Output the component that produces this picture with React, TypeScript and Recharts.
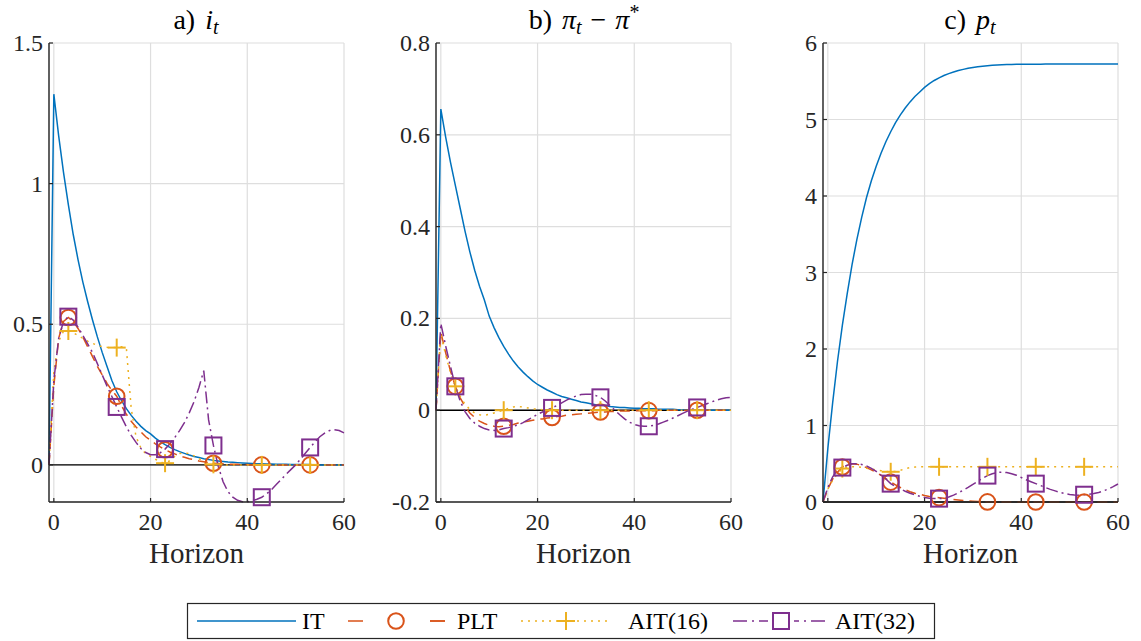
import React from 'react'
import { LineChart, Line, XAxis, YAxis, CartesianGrid, ReferenceLine } from 'recharts'

const FONT = "'Liberation Serif', 'DejaVu Serif', serif"
const AXIS = '#262626'
const GRID = '#dedede'
const COLORS = { it: '#0072BD', plt: '#D95319', ait16: '#EDB120', ait32: '#7E2F8E' }

const FIRST_H = -1
const MARKER_H = [3, 13, 23, 33, 43, 53]
const X_TICKS = [0, 20, 40, 60]
const Y_TICKS_A = [0, 0.5, 1, 1.5]
const Y_TICKS_B = [-0.2, 0, 0.2, 0.4, 0.6, 0.8]
const Y_TICKS_C = [0, 1, 2, 3, 4, 5, 6]

// a) i_t  (horizons -1 .. 60)
const IT_A = [
  0, 1.318, 1.17, 1.04, 0.925, 0.82, 0.73, 0.65, 0.58, 0.515,
  0.455, 0.4, 0.35, 0.3, 0.26, 0.228, 0.2, 0.176, 0.155, 0.137,
  0.122, 0.11, 0.095, 0.083, 0.072, 0.062, 0.054, 0.047, 0.041, 0.035,
  0.03, 0.026, 0.022, 0.019, 0.016, 0.014, 0.012, 0.01, 0.009, 0.008,
  0.007, 0.006, 0.005, 0.004, 0.004, 0.003, 0.003, 0.002, 0.002, 0.002,
  0.001, 0.001, 0.001, 0.001, 0.001, 0, 0, 0, 0, 0,
  0, 0,
]
const PLT_A = [
  0, 0.28, 0.45, 0.51, 0.524, 0.51, 0.485, 0.455, 0.42, 0.385,
  0.35, 0.32, 0.29, 0.265, 0.244, 0.21, 0.18, 0.155, 0.135, 0.117,
  0.1, 0.087, 0.075, 0.064, 0.054, 0.046, 0.039, 0.032, 0.027, 0.022,
  0.018, 0.014, 0.011, 0.008, 0.006, 0.005, 0.004, 0.003, 0.002, 0.002,
  0.001, 0.001, 0, 0, 0, 0, 0, 0, 0, 0,
  0, 0, 0, 0, 0, 0, 0, 0, 0, 0,
  0, 0,
]
const AIT16_A = [
  0, 0.33, 0.44, 0.475, 0.476, 0.47, 0.46, 0.45, 0.44, 0.432,
  0.425, 0.42, 0.418, 0.417, 0.417, 0.42, 0.415, 0.2, 0.1, 0.06,
  0.04, 0.03, 0.02, 0.01, 0.006, 0.015, 0.03, 0.04, 0.043, 0.04,
  0.032, 0.022, 0.013, 0.006, 0.002, 0.001, 0, 0, 0, 0,
  0, 0, 0, 0, 0, 0, 0, 0, 0, 0,
  0, 0, 0, 0, 0, 0, 0, 0, 0, 0,
  0, 0,
]
const AIT32_A = [
  0, 0.3, 0.45, 0.51, 0.527, 0.515, 0.49, 0.46, 0.43, 0.4,
  0.36, 0.32, 0.28, 0.243, 0.206, 0.17, 0.135, 0.105, 0.08, 0.058,
  0.044, 0.036, 0.036, 0.043, 0.056, 0.075, 0.097, 0.122, 0.15, 0.185,
  0.225, 0.275, 0.335, 0.16, 0.069, -0.005, -0.06, -0.095, -0.115, -0.126,
  -0.131, -0.131, -0.128, -0.122, -0.115, -0.103, -0.088, -0.07, -0.052, -0.034,
  -0.017, 0, 0.02, 0.041, 0.062, 0.082, 0.1, 0.113, 0.122, 0.125,
  0.122, 0.114,
]

// b) pi_t - pi*
const IT_B = [
  0, 0.656, 0.595, 0.54, 0.49, 0.44, 0.39, 0.345, 0.305, 0.27,
  0.24, 0.205, 0.18, 0.158, 0.139, 0.122, 0.107, 0.094, 0.083, 0.073,
  0.064, 0.056, 0.05, 0.044, 0.039, 0.034, 0.03, 0.027, 0.024, 0.021,
  0.018, 0.016, 0.014, 0.012, 0.011, 0.01, 0.008, 0.007, 0.006, 0.006,
  0.005, 0.004, 0.004, 0.003, 0.003, 0.003, 0.002, 0.002, 0.002, 0.002,
  0.001, 0.001, 0.001, 0.001, 0.001, 0.001, 0, 0, 0, 0,
  0, 0,
]
const PLT_B = [
  0, 0.17, 0.125, 0.085, 0.052, 0.027, 0.008, -0.006, -0.016, -0.024,
  -0.029, -0.033, -0.035, -0.036, -0.035, -0.033, -0.031, -0.028, -0.026, -0.024,
  -0.022, -0.02, -0.019, -0.017, -0.016, -0.014, -0.013, -0.011, -0.01, -0.009,
  -0.008, -0.007, -0.006, -0.005, -0.004, -0.004, -0.003, -0.003, -0.002, -0.002,
  -0.002, -0.001, -0.001, -0.001, -0.001, -0.001, 0, 0, 0, 0,
  0, 0, 0, 0, 0, 0, 0, 0, 0, 0,
  0, 0,
]
const AIT16_B = [
  0, 0.165, 0.12, 0.082, 0.052, 0.03, 0.013, 0.002, -0.006, -0.01,
  -0.011, -0.009, -0.006, -0.003, 0, 0.004, 0.007, 0.008, 0.007, 0.005,
  0.003, 0.002, 0.001, 0.001, 0, 0, 0, 0, 0, 0,
  0, 0, 0, 0, 0, 0, 0, 0, 0, 0,
  0, 0, 0, 0, 0, 0, 0, 0, 0, 0,
  0, 0, 0, 0, 0, 0, 0, 0, 0, 0,
  0, 0,
]
const AIT32_B = [
  0, 0.189, 0.14, 0.095, 0.052, 0.02, -0.003, -0.018, -0.028, -0.035,
  -0.04, -0.043, -0.044, -0.043, -0.04, -0.038, -0.035, -0.032, -0.027, -0.021,
  -0.015, -0.009, -0.004, 0, 0.005, 0.01, 0.016, 0.022, 0.027, 0.031,
  0.034, 0.035, 0.035, 0.032, 0.028, 0.02, 0.01, 0, -0.01, -0.019,
  -0.026, -0.031, -0.034, -0.035, -0.035, -0.033, -0.03, -0.026, -0.022, -0.017,
  -0.012, -0.007, -0.002, 0.002, 0.006, 0.01, 0.014, 0.018, 0.022, 0.025,
  0.027, 0.028,
]

// c) p_t
const IT_C = [
  0, 0.7, 1.3, 1.84, 2.31, 2.72, 3.1, 3.43, 3.72, 3.98,
  4.2, 4.39, 4.56, 4.71, 4.84, 4.96, 5.06, 5.15, 5.23, 5.3,
  5.36, 5.42, 5.47, 5.51, 5.545, 5.575, 5.6, 5.62, 5.64, 5.655,
  5.67, 5.68, 5.69, 5.697, 5.703, 5.708, 5.712, 5.715, 5.718, 5.72,
  5.721, 5.722, 5.722, 5.723, 5.723, 5.723, 5.724, 5.724, 5.724, 5.724,
  5.725, 5.725, 5.725, 5.725, 5.725, 5.725, 5.725, 5.725, 5.725, 5.725,
  5.725, 5.725,
]
const PLT_C = [
  0, 0.17, 0.3, 0.39, 0.458, 0.49, 0.5, 0.495, 0.475, 0.45,
  0.42, 0.385, 0.35, 0.305, 0.26, 0.225, 0.19, 0.16, 0.135, 0.115,
  0.1, 0.085, 0.073, 0.064, 0.057, 0.048, 0.04, 0.032, 0.025, 0.019,
  0.014, 0.01, 0.006, 0.003, 0.001, 0, 0, 0, 0, 0,
  0, 0, 0, 0, 0, 0, 0, 0, 0, 0,
  0, 0, 0, 0, 0, 0, 0, 0, 0, 0,
  0, 0,
]
const AIT16_C = [
  0, 0.165, 0.285, 0.37, 0.437, 0.455, 0.462, 0.46, 0.452, 0.442,
  0.432, 0.42, 0.41, 0.4, 0.395, 0.4, 0.415, 0.435, 0.45, 0.456,
  0.459, 0.46, 0.46, 0.46, 0.46, 0.46, 0.46, 0.46, 0.46, 0.46,
  0.46, 0.46, 0.46, 0.46, 0.46, 0.46, 0.46, 0.46, 0.46, 0.46,
  0.46, 0.46, 0.46, 0.46, 0.46, 0.46, 0.46, 0.46, 0.46, 0.46,
  0.46, 0.46, 0.46, 0.46, 0.46, 0.46, 0.46, 0.46, 0.46, 0.46,
  0.46, 0.46,
]
const AIT32_C = [
  0, 0.19, 0.33, 0.42, 0.45, 0.48, 0.5, 0.5, 0.49, 0.47,
  0.44, 0.4, 0.35, 0.3, 0.24, 0.2, 0.17, 0.14, 0.115, 0.095,
  0.075, 0.06, 0.05, 0.045, 0.044, 0.05, 0.065, 0.09, 0.12, 0.155,
  0.19, 0.23, 0.27, 0.31, 0.345, 0.37, 0.385, 0.39, 0.385, 0.37,
  0.35, 0.32, 0.29, 0.265, 0.24, 0.215, 0.19, 0.165, 0.145, 0.125,
  0.11, 0.098, 0.09, 0.088, 0.095, 0.1, 0.11, 0.125, 0.145, 0.17,
  0.2, 0.235,
]

function buildRows(it: number[], plt: number[], ait16: number[], ait32: number[]) {
  return it.map((v, i) => ({
    h: i + FIRST_H,
    it: v,
    plt: plt[i],
    ait16: ait16[i],
    ait32: ait32[i],
  }))
}

const ROWS_A = buildRows(IT_A, PLT_A, AIT16_A, AIT32_A)
const ROWS_B = buildRows(IT_B, PLT_B, AIT16_B, AIT32_B)
const ROWS_C = buildRows(IT_C, PLT_C, AIT16_C, AIT32_C)

type MarkKind = 'circle' | 'plus' | 'square'

function Mark({ kind, x, y, color }: { kind: MarkKind; x: number; y: number; color: string }) {
  if (kind === 'circle')
    return <circle cx={x} cy={y} r={7.8} fill="none" stroke={color} strokeWidth={2} />
  if (kind === 'plus')
    return (
      <g stroke={color} strokeWidth={2}>
        <line x1={x - 9} x2={x + 9} y1={y} y2={y} />
        <line x1={x} x2={x} y1={y - 9} y2={y + 9} />
      </g>
    )
  return <rect x={x - 8} y={y - 8} width={16} height={16} fill="none" stroke={color} strokeWidth={2} />
}

const markDot = (kind: MarkKind, color: string) => (p: any) => {
  if (!MARKER_H.includes(p.payload.h)) return <g key={`n-${kind}-${p.index}`} />
  return (
    <g key={`m-${kind}-${p.index}`}>
      <Mark kind={kind} x={p.cx} y={p.cy} color={color} />
    </g>
  )
}

const textStyle = { fontFamily: FONT }

const TICK_GAP = 11
const XTick = (p: any) => {
  const axisY = p.y - TICK_GAP
  return (
    <g>
      <line x1={p.x} x2={p.x} y1={axisY} y2={axisY - 4} stroke={AXIS} strokeWidth={1.2} />
      <text x={p.x} y={p.y} dy={17} textAnchor="middle" fill={AXIS} fontSize={24} style={textStyle}>
        {p.payload.value}
      </text>
    </g>
  )
}

const Y_GAP = 6
const YTick = (p: any) => {
  const axisX = p.x + Y_GAP
  return (
    <g>
      <line x1={axisX} x2={axisX + 4} y1={p.y} y2={p.y} stroke={AXIS} strokeWidth={1.2} />
      <text x={p.x} y={p.y} dy={8} textAnchor="end" fill={AXIS} fontSize={24} style={textStyle}>
        {String(p.payload.value)}
      </text>
    </g>
  )
}

interface PanelProps {
  left: number
  rows: ReturnType<typeof buildRows>
  domain: [number, number]
  yTicks: number[]
}

function Panel({ left, rows, domain, yTicks }: PanelProps) {
  return (
    <div style={{ position: 'absolute', left, top: 0, fontFamily: FONT }}>
      <LineChart
        width={355}
        height={580}
        data={rows}
        margin={{ top: 43, right: 15, bottom: 0, left: 0 }}
        style={{ fontFamily: FONT }}
      >
        <CartesianGrid stroke={GRID} strokeWidth={1.2} />
        <XAxis
          type="number"
          dataKey="h"
          domain={[-1, 60]}
          ticks={X_TICKS}
          interval={0}
          height={78}
          tickSize={0}
          tickMargin={TICK_GAP}
          tickLine={false}
          axisLine={{ stroke: AXIS, strokeWidth: 1.4 }}
          tick={(p: any) => <XTick {...p} />}
          label={{
            value: 'Horizon',
            position: 'insideBottom',
            offset: 17,
            fill: AXIS,
            fontSize: 29,
            style: textStyle,
          }}
        />
        <YAxis
          type="number"
          domain={domain}
          ticks={yTicks}
          interval={0}
          width={45}
          tickSize={0}
          tickMargin={Y_GAP}
          tickLine={false}
          axisLine={{ stroke: AXIS, strokeWidth: 1.4 }}
          tick={(p: any) => <YTick {...p} />}
        />
        <ReferenceLine y={0} stroke="#000" strokeWidth={1.4} />
        <Line dataKey="it" type="linear" stroke={COLORS.it} strokeWidth={1.5} dot={false} activeDot={false} isAnimationActive={false} />
        <Line
          dataKey="plt"
          type="linear"
          stroke={COLORS.plt}
          strokeWidth={1.5}
          strokeDasharray="10 6"
          dot={markDot('circle', COLORS.plt)}
          activeDot={false}
          isAnimationActive={false}
        />
        <Line
          dataKey="ait16"
          type="linear"
          stroke={COLORS.ait16}
          strokeWidth={1.5}
          strokeDasharray="2 5"
          dot={markDot('plus', COLORS.ait16)}
          activeDot={false}
          isAnimationActive={false}
        />
        <Line
          dataKey="ait32"
          type="linear"
          stroke={COLORS.ait32}
          strokeWidth={1.5}
          strokeDasharray="12 4 2 4"
          dot={markDot('square', COLORS.ait32)}
          activeDot={false}
          isAnimationActive={false}
        />
      </LineChart>
    </div>
  )
}

function Overlay() {
  const t = { fill: '#000', style: textStyle }
  return (
    <svg width={1141} height={641} style={{ position: 'absolute', left: 0, top: 0 }}>
      {/* titles */}
      <text x={196} y={29} textAnchor="middle" fontSize={28} {...t}>
        a) <tspan fontStyle="italic" dx={3}>i</tspan>
        <tspan fontStyle="italic" fontSize={20} dy={5}>t</tspan>
      </text>
      <text x={584} y={29} textAnchor="middle" fontSize={28} {...t}>
        b) <tspan fontStyle="italic" dx={3}>π</tspan>
        <tspan fontStyle="italic" fontSize={20} dy={5}>t</tspan>
        <tspan dy={-5} dx={9}>−</tspan>
        <tspan fontStyle="italic" dx={9}>π</tspan>
        <tspan fontSize={20} dy={-10}>*</tspan>
      </text>
      <text x={970} y={29} textAnchor="middle" fontSize={28} {...t}>
        c) <tspan fontStyle="italic" dx={3}>p</tspan>
        <tspan fontStyle="italic" fontSize={20} dy={5}>t</tspan>
      </text>

      {/* legend */}
      <rect x={187.5} y={603.5} width={747} height={35} fill="#fff" stroke={AXIS} strokeWidth={1.2} />
      <line x1={197} x2={296} y1={621} y2={621} stroke={COLORS.it} strokeWidth={1.5} />
      <text x={302} y={629} fontSize={24} {...t}>IT</text>

      <line x1={348} x2={445} y1={621} y2={621} stroke={COLORS.plt} strokeWidth={1.5} strokeDasharray="15 67" />
      <line x1={430} x2={445} y1={621} y2={621} stroke={COLORS.plt} strokeWidth={1.5} />
      <Mark kind="circle" x={396} y={621} color={COLORS.plt} />
      <text x={457} y={629} fontSize={24} {...t}>PLT</text>

      <line x1={521} x2={611} y1={621} y2={621} stroke={COLORS.ait16} strokeWidth={1.5} strokeDasharray="2 5" />
      <Mark kind="plus" x={566} y={621} color={COLORS.ait16} />
      <text x={628} y={629} fontSize={24} {...t}>AIT(16)</text>

      <line x1={733} x2={830} y1={621} y2={621} stroke={COLORS.ait32} strokeWidth={1.5} strokeDasharray="14 5 2 5" />
      <rect x={768} y={610} width={26} height={22} fill="#fff" />
      <Mark kind="square" x={781} y={621} color={COLORS.ait32} />
      <text x={835} y={629} fontSize={24} {...t}>AIT(32)</text>
    </svg>
  )
}

export default function App() {
  return (
    <div
      style={{
        position: 'absolute',
        left: 0,
        top: 0,
        width: 1141,
        height: 641,
        background: '#fff',
        fontFamily: FONT,
      }}
    >
      <Overlay />
      <Panel left={4} rows={ROWS_A} domain={[-0.132, 1.5]} yTicks={Y_TICKS_A} />
      <Panel left={391} rows={ROWS_B} domain={[-0.2, 0.8]} yTicks={Y_TICKS_B} />
      <Panel left={778} rows={ROWS_C} domain={[0, 6]} yTicks={Y_TICKS_C} />
    </div>
  )
}
